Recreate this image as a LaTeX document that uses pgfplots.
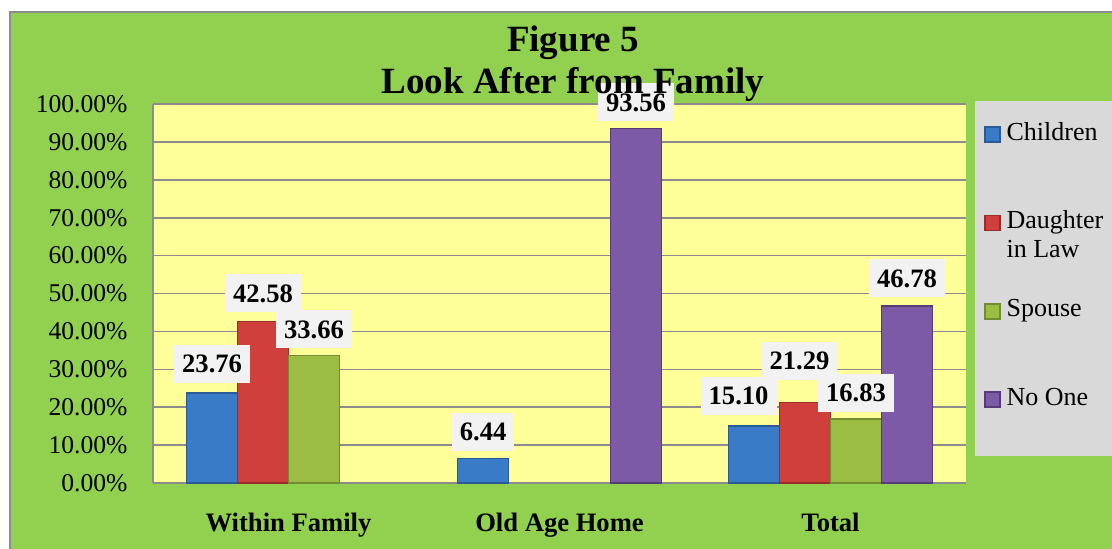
\documentclass[border=0pt]{standalone}
\usepackage{fontspec}
\setmainfont{Liberation Serif}
\usepackage{pgfplots}
\pgfplotsset{compat=1.18}
\usepackage{pgfplotstable}
\definecolor{bggreen}{HTML}{92D050}
\definecolor{plotyellow}{HTML}{FFFF99}
\definecolor{legendgray}{HTML}{D9D9D9}
\definecolor{labelgray}{HTML}{F2F2F2}
\definecolor{gridgray}{HTML}{8C8C8C}
\definecolor{cblue}{HTML}{3A7BC8}
\definecolor{cblueD}{HTML}{2A5B97}
\definecolor{cred}{HTML}{CF3F3C}
\definecolor{credD}{HTML}{9A2C2A}
\definecolor{cgreen}{HTML}{9BBD43}
\definecolor{cgreenD}{HTML}{728D30}
\definecolor{cpurple}{HTML}{7D5AA6}
\definecolor{cpurpleD}{HTML}{563B7A}

\pgfplotstableread{
x y dx dy
0 23.76 0 5
1 6.44 0 3.8
2 15.10 -7.75 5.4
}\tChildren
\pgfplotstableread{
x y dx dy
0 42.58 0 4.5
2 21.29 -2.75 11
}\tDIL
\pgfplotstableread{
x y dx dy
0 33.66 0 3.5
2 16.83 0 3.5
}\tSpouse
\pgfplotstableread{
x y dx dy
1 93.56 0 3.5
2 46.78 0 4
}\tNoOne

\begin{document}
\begin{tikzpicture}
\useasboundingbox (0,0) rectangle (556pt,274pt);
\fill[white] (0,0) rectangle (556pt,274pt);
\filldraw[fill=bggreen, draw=gridgray, line width=0.8pt] (5pt,-2pt) rectangle (558pt,268pt);
\fill[legendgray] (487.5pt,46.15pt) rectangle (558pt,223.5pt);
\begin{axis}[
  at={(76.5pt,32.5pt)}, anchor=south west,
  scale only axis, width=406.5pt, height=189.5pt,
  xmin=-0.5, xmax=2.5, ymin=0, ymax=100,
  clip=false,
  axis background/.style={fill=plotyellow},
  axis x line*=bottom, axis y line*=left,
  axis line style={-, draw=gridgray, line width=0.9pt},
  major tick length=0pt,
  ymajorgrids, major grid style={draw=gridgray, line width=0.8pt},
  ytick={0,10,...,100},
  yticklabels={0.00\%,10.00\%,20.00\%,30.00\%,40.00\%,50.00\%,60.00\%,70.00\%,80.00\%,90.00\%,100.00\%},
  yticklabel style={font=\fontsize{12.8}{15}\selectfont, xshift=-9.2pt},
  xtick={0,1,2},
  xticklabels={Within Family,Old Age Home,Total},
  xticklabel style={font=\bfseries\fontsize{13.3}{15}\selectfont, anchor=base, yshift=-24pt},
  bar width=0.188,
  legend style={at={(1.0221,0.9578)}, anchor=north west, draw=none, fill=none,
    inner sep=0pt, outer sep=0pt, row sep=4.2pt, column sep=3pt,
    font=\fontsize{13}{14.5}\selectfont,
    nodes={inner sep=0pt, text height=10pt, text depth=30pt},
    cells={anchor=base west}},
  barlegend/.style={legend image code/.code={\draw[##1] (0pt,-1pt) rectangle (7.5pt,6.5pt);}},
  labelplot/.style={draw=none, mark=none, forget plot, nodes near coords,
    point meta=explicit symbolic,
    visualization depends on={\thisrow{dx} \as \dx},
    visualization depends on={\thisrow{dy} \as \dy},
    every node near coord/.append style={font=\bfseries\fontsize{13.3}{15}\selectfont,
      fill=labelgray, inner xsep=4pt, inner ysep=5pt, text height=9pt, text depth=0pt,
      anchor=south, xshift=\dx pt, yshift=\dy pt}},
]
\addplot[ybar, bar shift=-0.282, fill=cblue, draw=cblueD, line width=0.8pt, barlegend] table[x=x,y=y] {\tChildren};
\addlegendentry{Children}
\addplot[ybar, bar shift=-0.094, fill=cred, draw=credD, line width=0.8pt, barlegend] table[x=x,y=y] {\tDIL};
\addlegendentry{\parbox[t]{60pt}{Daughter\\in Law}}
\addplot[ybar, bar shift=0.094, fill=cgreen, draw=cgreenD, line width=0.8pt, barlegend] table[x=x,y=y] {\tSpouse};
\addlegendentry{Spouse}
\addplot[ybar, bar shift=0.282, fill=cpurple, draw=cpurpleD, line width=0.8pt, barlegend] table[x=x,y=y] {\tNoOne};
\addlegendentry{No One}
\addplot[labelplot] table[x expr=\thisrow{x}-0.282, y=y, meta=y] {\tChildren};
\addplot[labelplot] table[x expr=\thisrow{x}-0.094, y=y, meta=y] {\tDIL};
\addplot[labelplot] table[x expr=\thisrow{x}+0.094, y=y, meta=y] {\tSpouse};
\addplot[labelplot] table[x expr=\thisrow{x}+0.282, y=y, meta=y] {\tNoOne};
\end{axis}
\node[anchor=base, font=\bfseries\fontsize{18.5}{21}\selectfont] at (286.5pt,248.5pt) {Figure 5};
\node[anchor=base, font=\bfseries\fontsize{18.5}{21}\selectfont] at (286.5pt,227.5pt) {Look After from Family};
\end{tikzpicture}
\end{document}
